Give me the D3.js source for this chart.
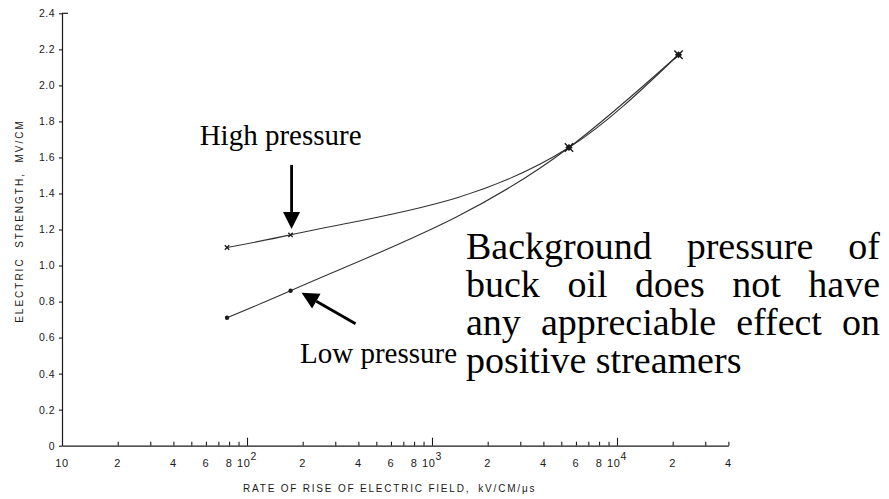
<!DOCTYPE html>
<html>
<head>
<meta charset="utf-8">
<script src="https://cdn.jsdelivr.net/npm/d3@7"></script>
<style>
  body { margin: 0; background: #fff; }
  svg { display: block; }
</style>
</head>
<body>
<svg id="chart" width="889" height="499"></svg>
<script>
// Rate of rise of electric field (kV/cm/µs) at which strength was measured
const rates = [78, 172, 5500, 21500];
// Electric strength, MV/cm
const highPressure = [1.10, 1.17, 1.655, 2.17];
const lowPressure  = [0.71, 0.86, 1.655, 2.17];

// Axis ticks
const yTicks = [0, 0.2, 0.4, 0.6, 0.8, 1.0, 1.2, 1.4, 1.6, 1.8, 2.0, 2.2, 2.4];
const yTickLabels = ["0", "0.2", "0.4", "0.6", "0.8", "1.0", "1.2", "1.4", "1.6", "1.8", "2.0", "2.2", "2.4"];
const xTicks = [10, 20, 30, 40, 50, 60, 70, 80, 90,
                100, 200, 300, 400, 500, 600, 700, 800, 900,
                1000, 2000, 3000, 4000, 5000, 6000, 7000, 8000, 9000,
                10000, 20000, 30000, 40000];
// labelled ticks: [value, mantissa text, exponent text]
const xTickLabels = [
  [10, "10", ""], [20, "2", ""], [40, "4", ""], [60, "6", ""], [80, "8", ""],
  [100, "10", "2"], [200, "2", ""], [400, "4", ""], [600, "6", ""], [800, "8", ""],
  [1000, "10", "3"], [2000, "2", ""], [4000, "4", ""], [6000, "6", ""], [8000, "8", ""],
  [10000, "10", "4"], [20000, "2", ""], [40000, "4", ""]
];

const xTitle = "RATE OF RISE OF ELECTRIC FIELD,";
const xUnit = "kV/CM/μs";
const yTitle = "ELECTRIC  STRENGTH,  MV/CM";
const noteLines = ["Background pressure of", "buck oil does not have",
                   "any appreciable effect on", "positive streamers"];

const svg = d3.select("#chart");
const ink = "#1a1a1a";

const x = d3.scaleLog().domain([10, 40000]).range([62, 62 + 185 * Math.log10(4000)]);
const y = d3.scaleLinear().domain([0, 2.4]).range([445.7, 13.3]);

const sans = "'Liberation Sans', Arial, sans-serif";
const serif = "'Liberation Serif', 'Times New Roman', serif";

// ---- X axis ----
const xAxis = svg.append("g")
  .attr("transform", `translate(0,${y(0)})`)
  .call(d3.axisBottom(x).tickValues(xTicks).tickSizeInner(-4).tickSizeOuter(0).tickFormat(""));
xAxis.select(".domain").attr("stroke", ink).attr("stroke-width", 1.2);
xAxis.selectAll(".tick line").attr("stroke", ink).attr("stroke-width", 1.1)
  .attr("y2", d => (Math.abs(Math.log10(d) - Math.round(Math.log10(d))) < 1e-9 && d > 10) ? -8 : -4);
xAxis.selectAll(".tick").filter(d => d === 10).select("line").remove();

const xl = svg.append("g").attr("font-family", sans).attr("font-size", 11)
  .attr("fill", ink).attr("letter-spacing", 0.6);
xTickLabels.forEach(([v, m, e]) => {
  const t = xl.append("text")
    .attr("x", x(v)).attr("y", y(0) + 21)
    .attr("text-anchor", "middle");
  t.append("tspan").text(m);
  if (e) t.append("tspan").attr("dy", -7).attr("font-size", 10.5).text(e);
});

// ---- Y axis ----
const yAxis = svg.append("g")
  .attr("transform", `translate(${x(10)},0)`)
  .call(d3.axisLeft(y).tickValues(yTicks).tickSizeInner(3).tickSizeOuter(0)
    .tickFormat((d, i) => yTickLabels[i]));
yAxis.select(".domain").attr("stroke", ink).attr("stroke-width", 1.2);
yAxis.selectAll(".tick line").attr("stroke", ink).attr("stroke-width", 1.1);
yAxis.selectAll(".tick text").attr("font-family", sans).attr("font-size", 10.5)
  .attr("fill", ink).attr("letter-spacing", 0.5).attr("x", -7);
// cap at the top of the axis
svg.append("line")
  .attr("x1", x(10)).attr("x2", x(10) + 6)
  .attr("y1", y(2.4)).attr("y2", y(2.4))
  .attr("stroke", ink).attr("stroke-width", 1.2);

// ---- Axis titles ----
const xt = svg.append("text")
  .attr("x", 243).attr("y", 492)
  .attr("font-family", sans).attr("font-size", 10).attr("fill", ink)
  .attr("letter-spacing", 1.8);
xt.append("tspan").text(xTitle);
xt.append("tspan").attr("dx", 8).text(xUnit);

svg.append("text")
  .attr("transform", `translate(23,221) rotate(-90)`)
  .attr("text-anchor", "middle")
  .attr("font-family", sans).attr("font-size", 10).attr("fill", ink)
  .attr("letter-spacing", 2)
  .style("white-space", "pre")
  .text(yTitle);

// ---- Curves ----
const line = d3.line()
  .x(d => x(d[0])).y(d => y(d[1]))
  .curve(d3.curveMonotoneX);
const highData = rates.map((r, i) => [r, highPressure[i]]);
const lowData = rates.map((r, i) => [r, lowPressure[i]]);

[highData, lowData].forEach(data => {
  svg.append("path").datum(data)
    .attr("d", line)
    .attr("fill", "none").attr("stroke", "#333").attr("stroke-width", 1.1);
});

// ---- Markers ----
// high pressure: small crosses
highData.slice(0, 2).forEach(([r, v]) => {
  const cx = x(r), cy = y(v), s = 2.2;
  svg.append("path")
    .attr("d", `M${cx - s},${cy - s}L${cx + s},${cy + s}M${cx - s},${cy + s}L${cx + s},${cy - s}`)
    .attr("stroke", ink).attr("stroke-width", 1.3);
});
// low pressure: dots
lowData.slice(0, 2).forEach(([r, v]) => {
  svg.append("circle").attr("cx", x(r)).attr("cy", y(v)).attr("r", 2.2).attr("fill", ink);
});
// shared points: heavy star marks
highData.slice(2).forEach(([r, v]) => {
  const cx = x(r), cy = y(v), s = 4.2, b = 3.6;
  svg.append("path")
    .attr("d", `M${cx - b},${cy}L${cx},${cy - b}L${cx + b},${cy}L${cx},${cy + b}Z`)
    .attr("fill", ink);
  svg.append("path")
    .attr("d", `M${cx - s},${cy - s}L${cx + s},${cy + s}M${cx - s},${cy + s}L${cx + s},${cy - s}`)
    .attr("stroke", ink).attr("stroke-width", 1.4);
});

// ---- Annotations ----
function arrow(x1, y1, x2, y2) {
  const ang = Math.atan2(y2 - y1, x2 - x1);
  const hl = 17, hw = 8.5;
  const bx = x2 - hl * Math.cos(ang), by = y2 - hl * Math.sin(ang);
  const px = -Math.sin(ang) * hw, py = Math.cos(ang) * hw;
  svg.append("line")
    .attr("x1", x1).attr("y1", y1).attr("x2", bx).attr("y2", by)
    .attr("stroke", "#000").attr("stroke-width", 2.8);
  svg.append("path")
    .attr("d", `M${x2},${y2}L${bx + px},${by + py}L${bx - px},${by - py}Z`)
    .attr("fill", "#000");
}

const hx = x(rates[1]), hy = y(highPressure[1]);
arrow(hx + 1, hy - 70, hx + 1, hy - 6);
svg.append("text")
  .attr("x", hx - 10).attr("y", hy - 90)
  .attr("text-anchor", "middle")
  .attr("font-family", serif).attr("font-size", 29).attr("fill", "#000")
  .text("High pressure");

const lx = x(rates[1]), ly = y(lowPressure[1]);
arrow(lx + 65, ly + 33, lx + 11, ly + 2);
svg.append("text")
  .attr("x", 300).attr("y", ly + 72)
  .attr("font-family", serif).attr("font-size", 29).attr("fill", "#000")
  .text("Low pressure");

// justified note block
const note = svg.append("g").attr("font-family", serif).attr("font-size", 38).attr("fill", "#000");
const left = 466, right = 880, base0 = 259, lead = 38;
noteLines.forEach((ln, i) => {
  const words = ln.split(" ");
  const yy = base0 + i * lead;
  const nodes = words.map(w => note.append("text").attr("y", yy).text(w));
  const widths = nodes.map(n => n.node().getComputedTextLength());
  const total = d3.sum(widths);
  const last = i === noteLines.length - 1;
  const gap = last ? 9.5 : (right - left - total) / (words.length - 1);
  let cx = left;
  nodes.forEach((n, j) => { n.attr("x", cx); cx += widths[j] + gap; });
});
</script>
</body>
</html>
